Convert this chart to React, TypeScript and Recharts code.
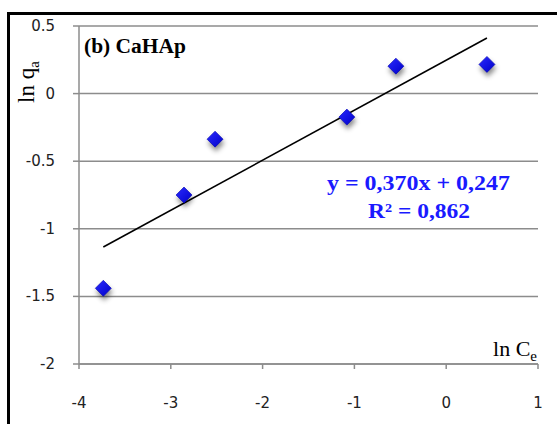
import React from 'react';
import { ScatterChart, Scatter, XAxis, YAxis, CartesianGrid } from 'recharts';

// ln Ce vs ln qa for CaHAp (Freundlich linearisation)
const lnCe = [-3.735, -2.856, -2.518, -1.082, -0.548, 0.444];
const lnQa = [-1.44, -0.75, -0.337, -0.174, 0.203, 0.216];

// Linear fit: y = slope·x + intercept, drawn over the measured range
const slope = 0.37;
const intercept = 0.247;
const rSquared = 0.862;
const fitRange = [-3.735, 0.444];

const xTicks = [-4, -3, -2, -1, 0, 1];
const yTicks = [-2, -1.5, -1, -0.5, 0, 0.5];

const points = lnCe.map((x, i) => ({ x, y: lnQa[i] }));
const fitLine = fitRange.map((x) => ({ x, y: slope * x + intercept }));

const fmt = (v: number) => v.toFixed(3).replace('.', ',');

const Diamond = (props: any) => {
  const { cx, cy } = props;
  if (cx == null || cy == null) return null;
  const r = 8;
  const pts = `${cx},${cy - r} ${cx + r},${cy} ${cx},${cy + r} ${cx - r},${cy}`;
  return (
    <g>
      <defs>
        <linearGradient id="diamondFill" x1="0" y1="0" x2="1" y2="1">
          <stop offset="0%" stopColor="#2a2aff" />
          <stop offset="100%" stopColor="#0000c8" />
        </linearGradient>
      </defs>
      <polygon
        points={pts}
        fill="url(#diamondFill)"
        stroke="#0000b0"
        strokeWidth={0.6}
        style={{ filter: 'drop-shadow(1px 4px 2.5px rgba(0,0,0,0.45))' }}
      />
    </g>
  );
};

const NoDot = () => null;

const tickFont = '"DejaVu Sans", sans-serif';
const axisGrey = '#8c8c8c';
const serif = '"Liberation Serif", "Times New Roman", serif';

const XTick = (props: any) => {
  const { x, y, payload } = props;
  return (
    <text x={x} y={y + 5} textAnchor="middle" dominantBaseline="central" fontFamily={tickFont} fontSize={15} fill="#222">
      {payload.value}
    </text>
  );
};

const YTick = (props: any) => {
  const { x, y, payload } = props;
  return (
    <text x={x} y={y} textAnchor="end" dominantBaseline="central" fontFamily={tickFont} fontSize={15} fill="#222">
      {payload.value}
    </text>
  );
};

export default function App() {
  return (
    <div style={{ position: 'absolute', left: 0, top: 0, width: 557, height: 424, overflow: 'hidden', background: '#fff' }}>
      <div
        style={{
          position: 'absolute',
          left: 7,
          top: 12,
          width: 570,
          height: 440,
          border: '3px solid #000',
          boxSizing: 'border-box',
        }}
      />
      <div style={{ position: 'absolute', left: 0, top: 0 }}>
        <ScatterChart width={557} height={424} margin={{ top: 26, right: 19, bottom: 0, left: 0 }}>
          <CartesianGrid horizontal vertical={false} stroke={axisGrey} strokeWidth={1.5} />
          <XAxis
            type="number"
            dataKey="x"
            domain={[-4, 1]}
            ticks={xTicks}
            height={60}
            stroke={axisGrey}
            strokeWidth={1.5}
            tickSize={5}
            tickMargin={29}
            tick={<XTick />}
            allowDataOverflow
          />
          <YAxis
            type="number"
            dataKey="y"
            domain={[-2, 0.5]}
            ticks={yTicks}
            width={79}
            stroke={axisGrey}
            strokeWidth={1.5}
            tickSize={6}
            tickMargin={18}
            tick={<YTick />}
            allowDataOverflow
          />
          <Scatter
            data={fitLine}
            line={{ stroke: '#000', strokeWidth: 1.6 }}
            shape={NoDot}
            isAnimationActive={false}
          />
          <Scatter data={points} shape={Diamond} isAnimationActive={false} />
          <text
            x={84}
            y={53}
            fontFamily={serif}
            fontWeight="bold"
            fontSize={20}
            textLength={102}
            lengthAdjust="spacingAndGlyphs"
            fill="#000"
          >
            (b) CaHAp
          </text>
          <text
            transform="translate(34, 82) rotate(-90)"
            textAnchor="middle"
            fontFamily={serif}
            fontSize={23}
            fill="#000"
          >
            ln q<tspan fontSize={15} dy={5}>a</tspan>
          </text>
          <text x={537} y={356} textAnchor="end" fontFamily={serif} fontSize={22} fill="#000">
            ln C<tspan fontSize={15} dy={5}>e</tspan>
          </text>
          <text
            x={327}
            y={190}
            fontFamily={serif}
            fontWeight="bold"
            fontSize={21}
            textLength={183}
            lengthAdjust="spacingAndGlyphs"
            fill="#1a1aff"
          >
            {`y = ${fmt(slope)}x + ${fmt(intercept)}`}
          </text>
          <text
            x={368}
            y={218}
            fontFamily={serif}
            fontWeight="bold"
            fontSize={21}
            textLength={102}
            lengthAdjust="spacingAndGlyphs"
            fill="#1a1aff"
          >
            {`R² = ${fmt(rSquared)}`}
          </text>
        </ScatterChart>
      </div>
    </div>
  );
}
